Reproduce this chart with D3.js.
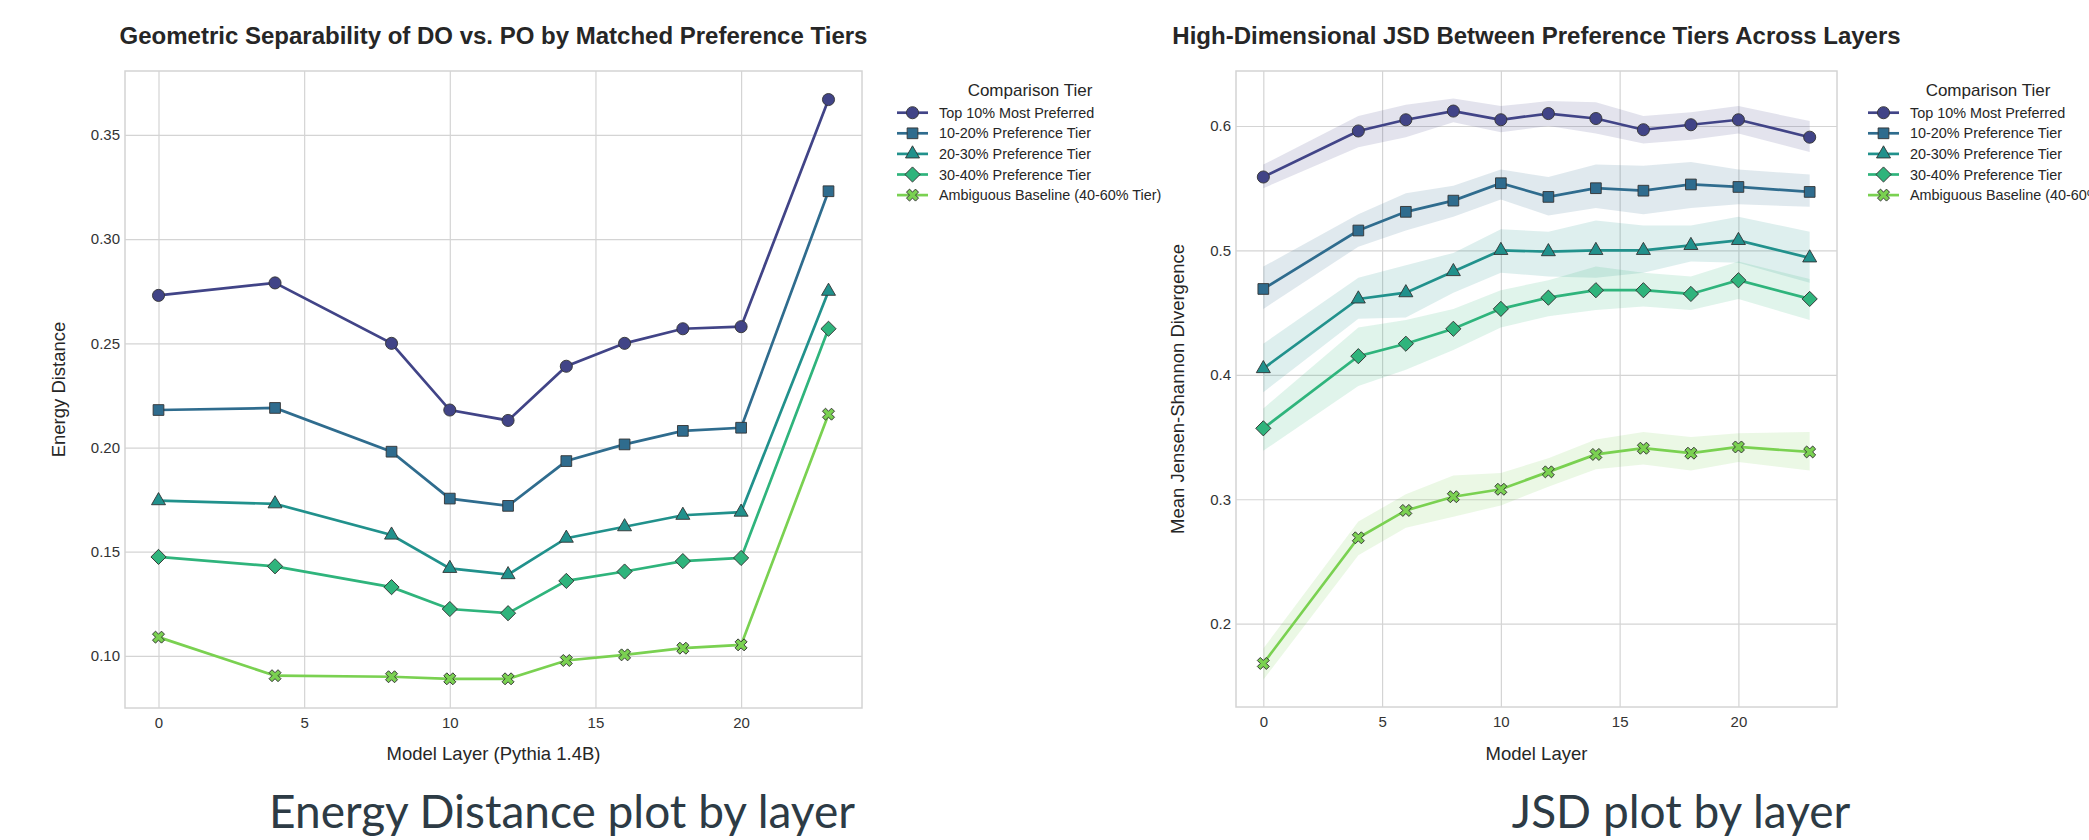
<!DOCTYPE html>
<html>
<head>
<meta charset="utf-8">
<script src="https://cdn.jsdelivr.net/npm/d3@7"></script>
<style>
  body { margin: 0; background: #fff; }
  svg text { font-family: "Liberation Sans", Arial, sans-serif; }
</style>
</head>
<body>
<div id="chart"></div>
<script>
// tiers shared by both panels
var tierNames = ["Top 10% Most Preferred", "10-20% Preference Tier", "20-30% Preference Tier",
  "30-40% Preference Tier", "Ambiguous Baseline (40-60% Tier)"];

// energy distance panel
var edLayers = [0, 4, 8, 10, 12, 14, 16, 18, 20, 23];
var edTop10 = [0.273, 0.279, 0.250, 0.218, 0.213, 0.239, 0.250, 0.257, 0.258, 0.367];
var ed10to20 = [0.218, 0.219, 0.198, 0.1755, 0.172, 0.1935, 0.2015, 0.208, 0.2095, 0.323];
var ed20to30 = [0.1745, 0.173, 0.158, 0.142, 0.139, 0.1565, 0.162, 0.1675, 0.169, 0.275];
var ed30to40 = [0.1475, 0.143, 0.133, 0.1225, 0.1205, 0.136, 0.1405, 0.1455, 0.147, 0.257];
var edAmbig = [0.109, 0.0905, 0.090, 0.089, 0.089, 0.0978, 0.1005, 0.1037, 0.1053, 0.216];
var edTicks = [0.10, 0.15, 0.20, 0.25, 0.30, 0.35];

// JSD panel (mean, band low, band high)
var jsdLayers = [0, 4, 6, 8, 10, 12, 14, 16, 18, 20, 23];
var jsdTop10 = [0.559, 0.596, 0.605, 0.612, 0.605, 0.610, 0.606, 0.597, 0.601, 0.605, 0.591];
var jsdTop10Lo = [0.550, 0.583, 0.591, 0.603, 0.595, 0.600, 0.594, 0.586, 0.589, 0.594, 0.579];
var jsdTop10Hi = [0.569, 0.608, 0.617, 0.622, 0.616, 0.620, 0.619, 0.608, 0.611, 0.616, 0.604];
var jsd10to20 = [0.469, 0.516, 0.531, 0.540, 0.554, 0.543, 0.550, 0.548, 0.553, 0.551, 0.547];
var jsd10to20Lo = [0.453, 0.503, 0.516, 0.527, 0.541, 0.528, 0.534, 0.529, 0.534, 0.537, 0.535];
var jsd10to20Hi = [0.487, 0.529, 0.546, 0.552, 0.565, 0.559, 0.569, 0.568, 0.571, 0.565, 0.561];
var jsd20to30 = [0.405, 0.461, 0.466, 0.483, 0.500, 0.499, 0.500, 0.500, 0.504, 0.508, 0.494];
var jsd20to30Lo = [0.386, 0.445, 0.446, 0.466, 0.482, 0.479, 0.478, 0.482, 0.491, 0.490, 0.474];
var jsd20to30Hi = [0.425, 0.478, 0.488, 0.498, 0.517, 0.515, 0.524, 0.520, 0.520, 0.527, 0.515];
var jsd30to40 = [0.357, 0.415, 0.425, 0.437, 0.453, 0.462, 0.468, 0.468, 0.465, 0.476, 0.461];
var jsd30to40Lo = [0.339, 0.391, 0.404, 0.420, 0.438, 0.447, 0.452, 0.455, 0.452, 0.461, 0.444];
var jsd30to40Hi = [0.373, 0.438, 0.444, 0.453, 0.468, 0.476, 0.487, 0.482, 0.479, 0.491, 0.477];
var jsdAmbig = [0.168, 0.269, 0.291, 0.302, 0.308, 0.322, 0.336, 0.341, 0.337, 0.342, 0.338];
var jsdAmbigLo = [0.155, 0.255, 0.277, 0.286, 0.295, 0.310, 0.324, 0.328, 0.323, 0.330, 0.323];
var jsdAmbigHi = [0.180, 0.282, 0.304, 0.319, 0.321, 0.333, 0.348, 0.354, 0.350, 0.353, 0.354];
var jsdTicks = [0.2, 0.3, 0.4, 0.5, 0.6];

var xTicks = [0, 5, 10, 15, 20];

var svgWidth = 2089;
var svgHeight = 840;

var colors = [0.2, 0.35, 0.5, 0.65, 0.8].map(t => d3.interpolateViridis(t));
var symbols = [
  {type: d3.symbolCircle, size: 115, rot: 0},
  {type: d3.symbolSquare, size: 115, rot: 0},
  {type: d3.symbolTriangle, size: 85, rot: 0},
  {type: d3.symbolSquare, size: 115, rot: 45},
  {type: d3.symbolCross, size: 90, rot: 45}
];

var svg = d3.select("#chart")
  .append("svg")
  .attr("width", svgWidth)
  .attr("height", svgHeight);

function drawMarker(g, i, x, y) {
  g.append("path")
    .attr("d", d3.symbol().type(symbols[i].type).size(symbols[i].size)())
    .attr("transform", `translate(${x},${y}) rotate(${symbols[i].rot})`)
    .attr("fill", colors[i])
    .attr("stroke", "#333")
    .attr("stroke-width", 0.9);
}

function drawPanel(cfg) {
  var x = d3.scaleLinear().domain([-1.15, 24.15]).range([cfg.left, cfg.right]);
  var y = d3.scaleLinear().domain(cfg.yDomain).range([cfg.bottom, cfg.top]);
  var g = svg.append("g");

  // grid
  g.append("g")
    .attr("transform", `translate(0,${cfg.bottom})`)
    .call(d3.axisBottom(x).tickValues(xTicks).tickSize(-(cfg.bottom - cfg.top)).tickPadding(9))
    .call(a => a.select(".domain").remove())
    .call(a => a.selectAll("line").attr("stroke", "#d4d4d4").attr("stroke-width", 1.2))
    .call(a => a.selectAll("text").attr("font-size", 15).attr("fill", "#333"));

  g.append("g")
    .attr("transform", `translate(${cfg.left},0)`)
    .call(d3.axisLeft(y).tickValues(cfg.yTicks).tickFormat(d3.format(cfg.fmt))
      .tickSize(-(cfg.right - cfg.left)).tickPadding(5))
    .call(a => a.select(".domain").remove())
    .call(a => a.selectAll("line").attr("stroke", "#d4d4d4").attr("stroke-width", 1.2))
    .call(a => a.selectAll("text").attr("font-size", 15).attr("fill", "#333"));

  g.append("rect")
    .attr("x", cfg.left).attr("y", cfg.top)
    .attr("width", cfg.right - cfg.left).attr("height", cfg.bottom - cfg.top)
    .attr("fill", "none").attr("stroke", "#d4d4d4").attr("stroke-width", 1.5);

  // bands
  cfg.series.forEach(function(s, i) {
    if (!s.lo) return;
    var area = d3.area()
      .x((d, k) => x(cfg.layers[k]))
      .y0((d, k) => y(s.lo[k]))
      .y1((d, k) => y(s.hi[k]));
    g.append("path")
      .attr("d", area(s.values))
      .attr("fill", colors[i])
      .attr("fill-opacity", 0.15);
  });

  // lines + markers
  cfg.series.forEach(function(s, i) {
    var line = d3.line()
      .x((d, k) => x(cfg.layers[k]))
      .y(d => y(d));
    g.append("path")
      .attr("d", line(s.values))
      .attr("fill", "none")
      .attr("stroke", colors[i])
      .attr("stroke-width", 2.7);
    s.values.forEach(function(v, k) {
      drawMarker(g, i, x(cfg.layers[k]), y(v));
    });
  });

  // titles
  g.append("text")
    .attr("x", (cfg.left + cfg.right) / 2)
    .attr("y", 44)
    .attr("text-anchor", "middle")
    .attr("font-size", 24)
    .attr("font-weight", "bold")
    .attr("fill", "#262626")
    .text(cfg.title);

  g.append("text")
    .attr("x", (cfg.left + cfg.right) / 2)
    .attr("y", 760)
    .attr("text-anchor", "middle")
    .attr("font-size", 18.5)
    .attr("fill", "#262626")
    .text(cfg.xLabel);

  g.append("text")
    .attr("transform", `translate(${cfg.left - cfg.yLabelGap},${(cfg.top + cfg.bottom) / 2}) rotate(-90)`)
    .attr("text-anchor", "middle")
    .attr("font-size", 18.5)
    .attr("fill", "#262626")
    .text(cfg.yLabel);

  // legend
  var lg = g.append("g");
  lg.append("text")
    .attr("x", cfg.legendX + cfg.legendTitleDx)
    .attr("y", 96)
    .attr("text-anchor", "middle")
    .attr("font-size", 17)
    .attr("fill", "#262626")
    .text("Comparison Tier");
  tierNames.forEach(function(name, i) {
    var yy = 112.7 + i * 20.6;
    lg.append("line")
      .attr("x1", cfg.legendX).attr("x2", cfg.legendX + 31)
      .attr("y1", yy).attr("y2", yy)
      .attr("stroke", colors[i]).attr("stroke-width", 2.7);
    drawMarker(lg, i, cfg.legendX + 15.5, yy);
    lg.append("text")
      .attr("x", cfg.legendX + 42)
      .attr("y", yy + 5)
      .attr("font-size", 14.4)
      .attr("fill", "#262626")
      .text(name);
  });

  // caption under panel
  svg.append("text")
    .attr("x", cfg.captionX)
    .attr("y", 828)
    .attr("text-anchor", "middle")
    .style("font-family", "Lato, sans-serif")
    .attr("font-size", 46)
    .attr("fill", "#2d3b45")
    .text(cfg.caption);
}

drawPanel({
  left: 125, right: 862, top: 71, bottom: 708,
  yDomain: [0.0750, 0.3807], yTicks: edTicks, fmt: ".2f",
  layers: edLayers,
  series: [edTop10, ed10to20, ed20to30, ed30to40, edAmbig].map(v => ({values: v})),
  title: "Geometric Separability of DO vs. PO by Matched Preference Tiers",
  xLabel: "Model Layer (Pythia 1.4B)",
  yLabel: "Energy Distance",
  yLabelGap: 60,
  legendX: 897,
  legendTitleDx: 133,
  caption: "Energy Distance plot by layer",
  captionX: 562
});

drawPanel({
  left: 1236, right: 1837, top: 71, bottom: 707,
  yDomain: [0.1330, 0.6442], yTicks: jsdTicks, fmt: ".1f",
  layers: jsdLayers,
  series: [
    {values: jsdTop10, lo: jsdTop10Lo, hi: jsdTop10Hi},
    {values: jsd10to20, lo: jsd10to20Lo, hi: jsd10to20Hi},
    {values: jsd20to30, lo: jsd20to30Lo, hi: jsd20to30Hi},
    {values: jsd30to40, lo: jsd30to40Lo, hi: jsd30to40Hi},
    {values: jsdAmbig, lo: jsdAmbigLo, hi: jsdAmbigHi}
  ],
  title: "High-Dimensional JSD Between Preference Tiers Across Layers",
  xLabel: "Model Layer",
  yLabel: "Mean Jensen-Shannon Divergence",
  yLabelGap: 52,
  legendX: 1868,
  legendTitleDx: 120,
  caption: "JSD plot by layer",
  captionX: 1681
});
</script>
</body>
</html>
